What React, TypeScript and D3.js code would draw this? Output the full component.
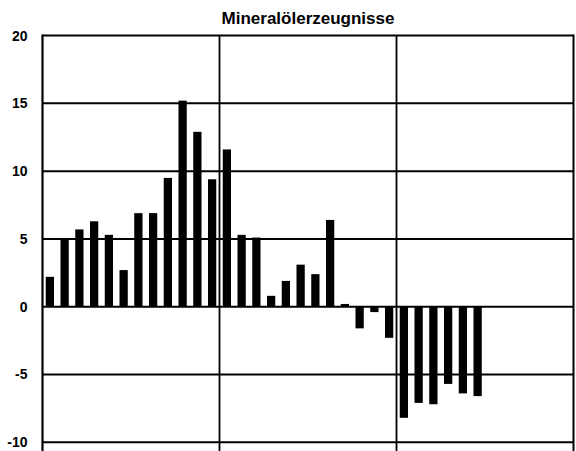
import React from "react";
import * as d3 from "d3";

const title = "Mineralölerzeugnisse";
const years = ["Jahr 1", "Jahr 2", "Jahr 3"];
const monthNames = ["Jan", "Feb", "Mär", "Apr", "Mai", "Jun", "Jul", "Aug", "Sep", "Okt", "Nov", "Dez"];
const categories = years.flatMap((y) => monthNames.map((m) => `${m} ${y}`));
const values: (number | null)[] = [
  2.2, 5.0, 5.7, 6.3, 5.3, 2.7, 6.9, 6.9, 9.5, 15.2, 12.9, 9.4,
  11.6, 5.3, 5.1, 0.8, 1.9, 3.1, 2.4, 6.4, 0.2, -1.6, -0.4, -2.3,
  -8.2, -7.1, -7.2, -5.7, -6.4, -6.6, null, null, null, null, null, null,
];
const yTicks = [-10, -5, 0, 5, 10, 15, 20];

const W = 576;
const H = 451;

export default function App() {
  const left = 42.5;
  const right = 573.5;
  const x = d3.scaleBand<string>().domain(categories).range([left, right]).padding(0);
  const y = d3.scaleLinear().domain([-10, 20]).range([442.2, 35.6]);
  const bw = x.bandwidth() * 0.56;
  const top = y(20);
  const bottom = H + 10;
  const sep = [12, 24].map((i) => x(categories[i]) as number);
  const font = "'Liberation Sans', Arial, Helvetica, sans-serif";

  return (
    <div style={{ position: "fixed", left: 0, top: 0, width: W, height: H, background: "#fff" }}>
      <svg width={W} height={H} style={{ display: "block" }}>
        <rect x={0} y={0} width={W} height={H} fill="#fff" />
        <text x={(left + right) / 2} y={23.5} textAnchor="middle" fontFamily={font} fontWeight="bold" fontSize={17} fill="#000">
          {title}
        </text>
        {yTicks.map((t) => (
          <g key={t}>
            <line x1={left} x2={right} y1={y(t)} y2={y(t)} stroke="#000" strokeWidth={2} />
            <text x={27.5} y={y(t) + 5} textAnchor="end" fontFamily={font} fontWeight="bold" fontSize={14} fill="#000">
              {t}
            </text>
          </g>
        ))}
        {sep.map((sx, i) => (
          <line key={i} x1={sx} x2={sx} y1={top} y2={bottom} stroke="#000" strokeWidth={1.8} />
        ))}
        <line x1={left} x2={left} y1={top - 1} y2={bottom} stroke="#000" strokeWidth={2.2} />
        <line x1={right} x2={right} y1={top - 1} y2={bottom} stroke="#000" strokeWidth={2} />
        {categories.map((c, i) => {
          const v = values[i];
          if (v === null || v === undefined) return null;
          const bx = (x(c) as number) + (x.bandwidth() - bw) / 2;
          const y0 = y(0);
          const y1 = y(v);
          return <rect key={c} x={bx} y={Math.min(y0, y1)} width={bw} height={Math.abs(y1 - y0)} fill="#000" />;
        })}
      </svg>
    </div>
  );
}
